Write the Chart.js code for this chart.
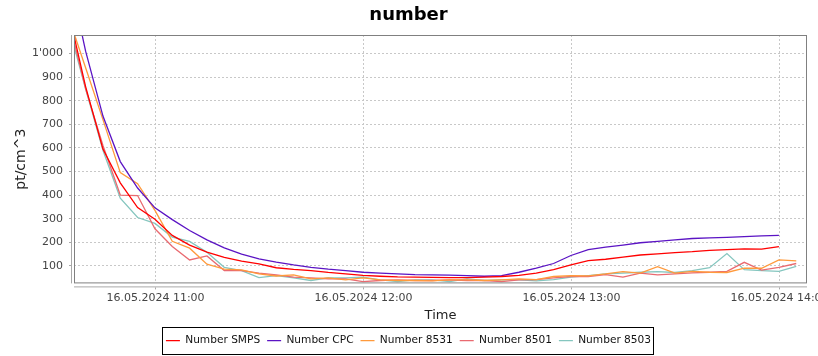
<!DOCTYPE html>
<html><head><meta charset="utf-8">
<script src="https://cdn.jsdelivr.net/npm/chart.js@4.4.0/dist/chart.umd.min.js"></script>
<style>html,body{margin:0;padding:0;background:#fff;overflow:hidden}</style>
</head><body>
<canvas id="c" width="818" height="356"></canvas>
<script>
// ---- data ----
const dateLabel = '16.05.2024';
const times = ['10:34:50','10:39:50','10:44:50','10:49:50','10:54:50','10:59:50','11:04:50','11:09:50','11:14:50','11:19:50','11:24:50',
  '11:29:50','11:34:50','11:39:50','11:44:50','11:49:50','11:54:50','11:59:50','12:04:50','12:09:50','12:14:50','12:19:50',
  '12:24:50','12:29:50','12:34:50','12:39:50','12:44:50','12:49:50','12:54:50','12:59:50','13:04:50','13:09:50','13:14:50',
  '13:19:50','13:24:50','13:29:50','13:34:50','13:39:50','13:44:50','13:49:50','13:54:50','13:59:50','14:04:50'];
const seriesNames = ['Number SMPS','Number CPC','Number 8531','Number 8501','Number 8503'];
const smps  = [1180,860,595,452,347,298,229,188,158,136,120,108,92,85,80,72,66,60,56,53,52,51,50,50,52,55,60,69,84,104,122,128,137,146,151,156,160,166,169,172,171,182];
const cpc   = [1350,1010,735,542,430,346,296,250,210,176,150,130,116,104,94,86,80,73,69,66,63,62,61,59,56,59,73,90,110,144,169,179,188,198,204,210,216,219,221,224,227,229];
const n8531 = [1158,940,720,495,448,335,204,175,107,86,83,66,57,62,45,49,41,49,41,38,38,36,41,41,38,41,45,42,55,59,58,66,76,69,97,69,77,73,72,90,90,125,121];
const n8501 = [1150,850,610,400,398,257,182,125,142,80,80,69,62,52,49,45,45,33,38,41,38,38,41,38,38,33,41,42,49,55,55,63,52,69,62,66,70,73,77,115,82,94,110];
const n8503 = [1121,850,590,387,305,280,222,204,158,94,80,50,59,49,38,49,49,52,41,33,41,41,33,45,38,41,41,36,42,52,59,66,69,73,76,72,80,92,152,84,80,77,98];
const seriesColors = ['#ff0000','#5b14c4','#ff9a3c','#e96a70','#85c6bf'];
const yTicks = [100,200,300,400,500,600,700,800,900,1000];
const xTicks = ['11:00','12:00','13:00','14:00'];
const xRange = ['10:36:29','14:07:56'];
const yRange = [25.7, 1078.5];

function toMin(s){ const p = s.split(':').map(Number); return p[0]*60 + p[1] + (p[2]||0)/60; }
function fmtY(v){ return v >= 1000 ? Math.floor(v/1000) + "'" + String(v % 1000).padStart(3,'0') : String(v); }
function fmtX(v){ const h = Math.floor(v/60 + 1e-6), m = Math.round(v - h*60); return dateLabel + ' ' + String(h).padStart(2,'0') + ':' + String(m).padStart(2,'0'); }

const allSeries = [smps, cpc, n8531, n8501, n8503];
const datasets = allSeries.map((vals, i) => ({
  label: seriesNames[i],
  data: vals.map((v, j) => ({x: toMin(times[j]), y: v})),
  borderColor: seriesColors[i],
  backgroundColor: seriesColors[i],
  borderWidth: 1.3,
  pointRadius: 0,
  pointHoverRadius: 0,
  tension: 0,
  fill: false
}));

const font = 'DejaVu Sans';

const framePlugin = {
  id: 'frame',
  afterLayout(chart){
    chart.legend.left += 5; chart.legend.right += 5;
    chart.titleBlock.left += 5; chart.titleBlock.right += 5;
  },
  afterDraw(chart){
    const ctx = chart.ctx, a = chart.chartArea;
    ctx.save();
    ctx.lineWidth = 1;
    ctx.strokeStyle = '#808080';
    ctx.strokeRect(a.left + 0.5, a.top + 0.5, a.right - a.left - 1, a.bottom - a.top - 1);
    ctx.strokeStyle = '#a8a8a8';
    ctx.beginPath();
    ctx.moveTo(a.left - 2.5, a.top); ctx.lineTo(a.left - 2.5, a.bottom);
    ctx.moveTo(a.left, a.bottom + 3.5); ctx.lineTo(a.right, a.bottom + 3.5);
    const xs = chart.scales.x, ys = chart.scales.y;
    xs.ticks.forEach(t => { const px = Math.round(xs.getPixelForValue(t.value) - 0.5) + 0.5; ctx.moveTo(px, a.bottom + 4); ctx.lineTo(px, a.bottom + 6); });
    ys.ticks.forEach(t => { const py = Math.round(ys.getPixelForValue(t.value) - 0.5) + 0.5; ctx.moveTo(a.left - 3, py); ctx.lineTo(a.left - 5, py); });
    ctx.stroke();
    const hb = chart.legend.legendHitBoxes;
    if (hb && hb.length) {
      const l = Math.min(...hb.map(h => h.left)) - 4;
      const r = Math.max(...hb.map(h => h.left + h.width)) + 2;
      const t = hb[0].top - 8, b = hb[0].top + hb[0].height + 8;
      ctx.strokeStyle = '#000';
      ctx.strokeRect(Math.round(l) + 0.5, Math.round(t) + 0.5, Math.round(r - l), Math.round(b - t));
    }
    ctx.restore();
  }
};

new Chart(document.getElementById('c'), {
  type: 'line',
  data: { datasets },
  plugins: [framePlugin],
  options: {
    responsive: false,
    animation: false,
    devicePixelRatio: 1,
    events: [],
    layout: { padding: { left: 0, right: 11, top: 0, bottom: 0 } },
    plugins: {
      tooltip: { enabled: false },
      title: { display: true, text: 'number', color: '#000', font: { family: font, size: 18, weight: 'bold' }, padding: { top: 5, bottom: 8.4 } },
      legend: {
        position: 'bottom',
        labels: { usePointStyle: true, pointStyle: 'line', pointStyleWidth: 14, boxHeight: 11, padding: 7, color: '#111', font: { family: font, size: 10.6 } }
      }
    },
    scales: {
      x: {
        type: 'linear', min: toMin(xRange[0]), max: toMin(xRange[1]),
        afterFit(s){ s.height = 45; s.paddingLeft = 0; s.paddingRight = 0; },
        afterBuildTicks(s){ s.ticks = xTicks.map(t => ({ value: toMin(t) })); },
        ticks: { padding: 8, maxRotation: 0, autoSkip: false, color: '#444', font: { family: font, size: 11 }, callback: v => fmtX(v) },
        grid: { color: '#c8c8c8', drawTicks: false, lineWidth: 1 },
        border: { display: false, dash: [2, 2] },
        title: { display: true, text: 'Time', color: '#222', font: { family: font, size: 13 }, padding: { top: 0, bottom: 5 } }
      },
      y: {
        type: 'linear', min: yRange[0], max: yRange[1],
        afterFit(s){ s.width = 74; s.paddingTop = 0; s.paddingBottom = 0; },
        afterBuildTicks(s){ s.ticks = yTicks.map(v => ({ value: v })); },
        ticks: { padding: 11, autoSkip: false, includeBounds: false, color: '#444', font: { family: font, size: 11 }, callback: v => fmtY(v) },
        grid: { color: '#c8c8c8', drawTicks: false, lineWidth: 1 },
        border: { display: false, dash: [2, 2] },
        title: { display: true, text: 'pt/cm^3', color: '#222', font: { family: font, size: 14 }, padding: { top: 13, bottom: 0 } }
      }
    }
  }
});
</script>
</body></html>
